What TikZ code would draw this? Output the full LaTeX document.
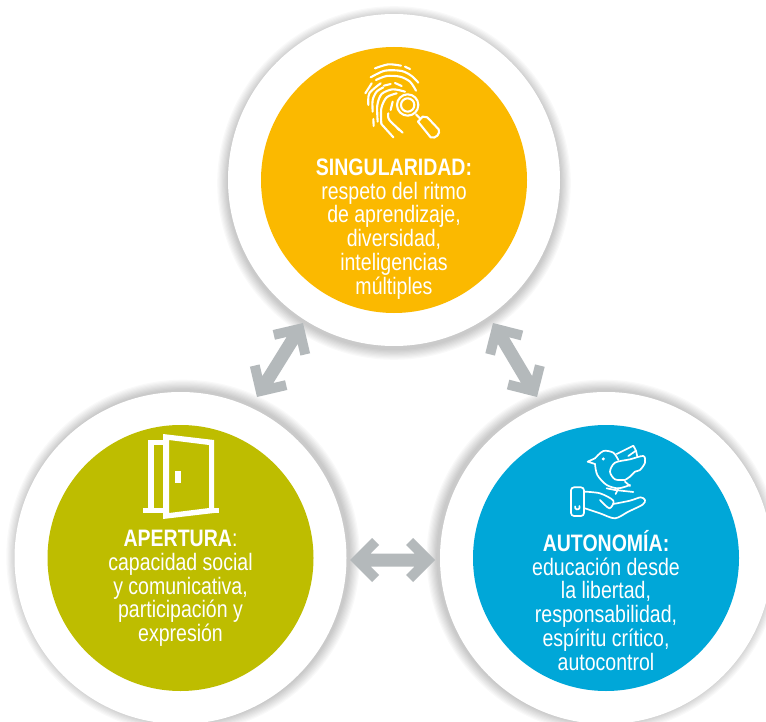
\documentclass[tikz,border=0pt]{standalone}
\usepackage{fontspec}
\setmainfont[FakeStretch=0.82]{Liberation Sans}
\usetikzlibrary{calc}
\definecolor{singcol}{HTML}{FBB900}
\definecolor{apercol}{HTML}{BEBD00}
\definecolor{autocol}{HTML}{00A7D8}
\definecolor{arrowcol}{HTML}{B4B9BB}
\tikzset{
  halo/.style={circle,fill=white,minimum size=332pt,inner sep=0pt},
  disc/.style={circle,minimum size=266pt,inner sep=0pt},
  blurb/.style={text=white,align=center,font=\fontsize{23.8}{23.8}\selectfont,inner sep=0pt,anchor=north},
  linkfill/.style={fill=arrowcol},
  icon/.style={draw=white,line width=2.1pt,line cap=round,line join=round,fill=none},
  thin/.style={draw=white,line width=1.7pt,line cap=round,line join=round,fill=none}
}
\newcommand{\softshadow}[3]{%
  \foreach \r in {1,...,9}{\fill[black,opacity=0.022] ($(#1)+(#2,#3)$) circle ({166+\r*1.2pt});}%
}
% point at distance #3 along #1->#2, then #4 sideways (angle #5)
\newcommand{\hp}[5]{($(#1)!#3pt!(#2)!#4pt!#5:(#2)$)}
\newcommand{\doublearrow}[2]{%
  \fill[linkfill] (#1)
   -- \hp{#1}{#2}{22}{22}{90} -- \hp{#1}{#2}{29}{15}{90} -- \hp{#1}{#2}{20.5}{6.5}{90}
   -- \hp{#2}{#1}{20.5}{6.5}{-90} -- \hp{#2}{#1}{29}{15}{-90} -- \hp{#2}{#1}{22}{22}{-90}
   -- (#2)
   -- \hp{#2}{#1}{22}{22}{90} -- \hp{#2}{#1}{29}{15}{90} -- \hp{#2}{#1}{20.5}{6.5}{90}
   -- \hp{#1}{#2}{20.5}{6.5}{-90} -- \hp{#1}{#2}{29}{15}{-90} -- \hp{#1}{#2}{22}{22}{-90}
   -- cycle;}
\begin{document}
\begin{tikzpicture}[x=1pt,y=-1pt]
\useasboundingbox (0,0) rectangle (766,722);
\fill[white] (0,0) rectangle (766,722);
\coordinate (ct) at (394,180);
\coordinate (cl) at (180.5,558);
\coordinate (cr) at (606,558);
\softshadow{ct}{0}{3}\softshadow{cl}{2.6}{-1.5}\softshadow{cr}{-2.6}{-1.5}
\node[halo] (whitetop) at (ct) {};
\node[halo] (whiteleft) at (cl) {};
\node[halo] (whiteright) at (cr) {};
\node[disc,fill=singcol] (sing) at (ct) {};
\node[disc,fill=apercol] (aper) at (cl) {};
\node[disc,fill=autocol] (auto) at (cr) {};

\node[blurb] (tsing) at (394,158.5) {\textbf{SINGULARIDAD:}\\respeto del ritmo\\de aprendizaje,\\diversidad,\\inteligencias\\múltiples};
\node[blurb] (taper) at (180.5,530) {\textbf{APERTURA}:\\capacidad social\\y comunicativa,\\participación y\\expresión};
\node[blurb] (tauto) at (606,530) {\textbf{AUTONOMÍA:}\\educación desde\\la libertad,\\responsabilidad,\\espíritu crítico,\\autocontrol};

% arrows
\coordinate (a1) at (303,323); \coordinate (a2) at (257,397);
\coordinate (b1) at (493,323); \coordinate (b2) at (537,397);
\coordinate (c1) at (350,560); \coordinate (c2) at (435,560);
\doublearrow{a1}{a2}
\doublearrow{b1}{b2}
\doublearrow{c1}{c2}

% door icon
\fill[white,even odd rule] (163,434) -- (214,440) -- (214,513) -- (163,519) -- cycle
  (169,440) -- (209,445) -- (209,508) -- (169,513) -- cycle;
\fill[white] (148,440) rectangle (163,445);
\fill[white] (148,440) rectangle (154,508);
\fill[white] (143,508) rectangle (163,513);
\fill[white] (214,508) rectangle (219,513);
\fill[white] (175,471) rectangle (181,483);

% fingerprint icon (reference crop coordinates)
\begin{scope}[shift={(340,50)},x=0.3333pt,y=-0.3333pt]
\draw[icon] plot[smooth] coordinates {(105,55) (145,43) (183,47)};
\draw[icon] (195,50) -- (210,57);
\draw[icon] plot[smooth] coordinates {(92,82) (135,62) (185,63) (215,78) (235,98)};
\draw[icon] (76,130) -- (95,100);
\draw[icon] plot[smooth] coordinates {(108,90) (140,78) (180,80) (210,95) (228,122)};
\draw[icon] plot[smooth] coordinates {(85,165) (88,130) (122,100)};
\draw[icon] (132,107) -- (152,102);
\draw[icon] plot[smooth] coordinates {(165,99) (185,108)};
\draw[icon] plot[smooth] coordinates {(98,185) (98,150) (110,125) (130,112)};
\draw[icon] (100,207) -- (101,228);
\draw[icon] plot[smooth] coordinates {(113,215) (112,165) (125,132) (158,118) (195,125)};
\draw[icon] plot[smooth] coordinates {(124,222) (124,175) (140,142) (170,130)};
\draw[icon] (124,222) -- (160,262);
\draw[icon] plot[smooth] coordinates {(145,190) (148,210) (188,248)};
\draw[icon] (152,180) -- (158,155);
\draw[icon] (172,235) -- (178,240);
\draw[icon] (203,165) circle (32);
\draw[icon] (203,165) circle (20);
\draw[icon] (228,193) -- (240,205);
\draw[icon] (234,215) -- (248,200) -- (262,202) -- (296,238) .. controls (302,250) and (288,268) .. (272,262) -- cycle;
\end{scope}

% bird and hand icon (reference crop coordinates)
\begin{scope}[shift={(550,430)},x=0.3333pt,y=-0.3333pt]
\draw[thin] (135,85) -- (113,95) -- (135,102);
\draw[thin] plot[smooth] coordinates {(135,85) (160,63) (190,68) (205,90)};
\draw[thin] plot[smooth] coordinates {(135,102) (142,135) (170,165) (205,175) (240,165)};
\draw[thin] (200,72) -- (250,47) -- (258,62) -- (235,78);
\draw[thin] (258,62) -- (262,80);
\draw[thin] plot[smooth] coordinates {(225,150) (195,148) (180,125) (195,98) (240,88) (280,78) (285,98) (270,120) (255,125) (240,140) (225,150)};
\draw[thin] (225,155) -- (240,168);
\draw[thin] (205,175) -- (197,192);
\draw[thin] (170,175) -- (195,180) -- (250,186);
\fill[white] (160,87) circle (5);
\draw[thin,rounded corners=3pt] (63,172) rectangle (102,258);
\draw[thin] (88,228) arc (-30:200:7);
\draw[thin] plot[smooth] coordinates {(103,185) (150,190) (190,212) (178,235) (150,210)};
\draw[thin] plot[smooth] coordinates {(190,222) (240,212) (272,202) (285,210) (278,224) (235,245) (195,265) (150,250) (105,235)};
\end{scope}
\end{tikzpicture}
\end{document}
